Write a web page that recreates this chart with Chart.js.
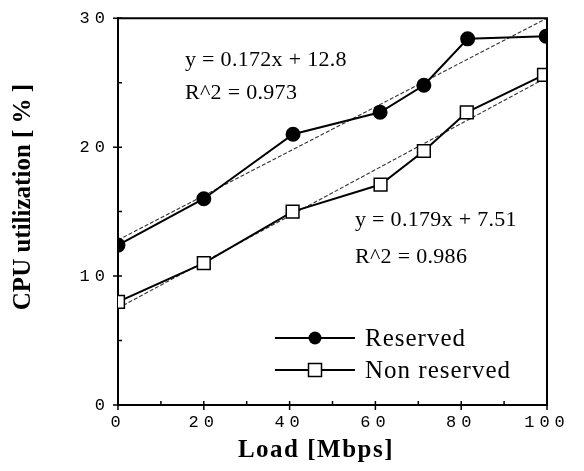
<!DOCTYPE html>
<html><head><meta charset="utf-8">
<script src="https://cdn.jsdelivr.net/npm/chart.js@4.4.1/dist/chart.umd.min.js"></script>
<style>html,body{margin:0;padding:0;background:#fff;} #wrap{width:584px;height:471px;position:relative;}</style>
</head><body><div id="wrap"><canvas id="c"></canvas></div>
<script>
// ---- data ----
const loadReserved = [0, 20, 40.8, 61.1, 71.3, 81.5, 99.8];
const cpuReserved = [12.4, 16.0, 21.0, 22.7, 24.8, 28.4, 28.6];
const loadNonReserved = [0, 20, 40.7, 61.2, 71.3, 81.3, 99.3];
const cpuNonReserved = [8.0, 11.0, 15.0, 17.1, 19.7, 22.7, 25.6];
const trendX = [0, 100];
const trendReserved = [12.8, 30.0];
const trendNonReserved = [7.51, 25.41];
const xTicks = [0, 20, 40, 60, 80, 100];
const yTicks = [0, 10, 20, 30];
const xMinorTicks = [10, 30, 50, 70, 90];
const yMinorTicks = [5, 15, 25];
const seriesNames = ['Reserved', 'Non reserved'];
const fitReserved = ['y = 0.172x + 12.8', 'R^2 = 0.973'];
const fitNonReserved = ['y = 0.179x + 7.51', 'R^2 = 0.986'];
const xTitle = 'Load [Mbps]';
const yTitle = 'CPU utilization [ % ]';

const pts = (xs, ys) => xs.map((x, i) => ({x: x, y: ys[i]}));

const serif = '"Liberation Serif", "Times New Roman", serif';
const mono = '"Liberation Mono", "Courier New", monospace';

const decor = {
  id: 'decor',
  afterDatasetsDraw(chart) { chart.ctx.letterSpacing = '5px'; },
  afterDraw(chart) {
    const ctx = chart.ctx;
    ctx.letterSpacing = '0px';
    const a = chart.chartArea;
    const xs = chart.scales.x, ys = chart.scales.y;
    ctx.save();
    // frame top + right
    ctx.strokeStyle = '#000';
    ctx.lineWidth = 2;
    ctx.beginPath();
    ctx.moveTo(a.left, a.top); ctx.lineTo(a.right, a.top); ctx.lineTo(a.right, a.bottom);
    ctx.stroke();
    // tick marks
    ctx.lineWidth = 1.5;
    ctx.beginPath();
    xTicks.forEach(v => { const p = xs.getPixelForValue(v); ctx.moveTo(p, a.bottom - 4); ctx.lineTo(p, a.bottom + 5); });
    xMinorTicks.forEach(v => { const p = xs.getPixelForValue(v); ctx.moveTo(p, a.bottom); ctx.lineTo(p, a.bottom - 4); });
    yTicks.forEach(v => { const p = ys.getPixelForValue(v); ctx.moveTo(a.left - 5, p); ctx.lineTo(a.left + 4, p); });
    yMinorTicks.forEach(v => { const p = ys.getPixelForValue(v); ctx.moveTo(a.left, p); ctx.lineTo(a.left + 4, p); });
    ctx.stroke();
    // axis titles
    ctx.fillStyle = '#000';
    ctx.textBaseline = 'middle';
    ctx.textAlign = 'center';
    ctx.font = 'bold 25px ' + serif;
    ctx.letterSpacing = '1.5px';
    ctx.fillText(xTitle, 316, 451);
    ctx.letterSpacing = '0px';
    ctx.save();
    ctx.translate(24, 197);
    ctx.rotate(-Math.PI / 2);
    ctx.fillText(yTitle, 0, 0);
    ctx.restore();
    // fit annotations
    ctx.font = '22px ' + serif;
    ctx.textAlign = 'left';
    ctx.letterSpacing = '0.3px';
    ctx.fillText(fitReserved[0], a.left + 67, 60);
    ctx.fillText(fitReserved[1], a.left + 67, 93);
    ctx.fillText(fitNonReserved[0], a.left + 237, 220);
    ctx.fillText(fitNonReserved[1], a.left + 237, 257);
    // legend
    const legendRows = [338, 370];
    legendRows.forEach((ry, i) => {
      ctx.strokeStyle = '#000';
      ctx.lineWidth = 2;
      ctx.beginPath(); ctx.moveTo(a.left + 157, ry); ctx.lineTo(a.left + 237, ry); ctx.stroke();
      const cx = a.left + 197;
      ctx.lineWidth = 1.5;
      if (i === 0) {
        ctx.beginPath(); ctx.arc(cx, ry, 6.5, 0, Math.PI * 2); ctx.fillStyle = '#000'; ctx.fill();
      } else {
        ctx.fillStyle = '#fff';
        ctx.fillRect(cx - 6.5, ry - 6.5, 13, 13);
        ctx.strokeRect(cx - 6.5, ry - 6.5, 13, 13);
      }
      ctx.fillStyle = '#000';
      ctx.font = '25px ' + serif;
      ctx.letterSpacing = '1px';
      ctx.fillText(seriesNames[i], a.left + 247, ry + 1);
    });
    ctx.letterSpacing = '0px';
    ctx.restore();
  }
};

new Chart(document.getElementById('c'), {
  type: 'scatter',
  data: {
    datasets: [
      {label: seriesNames[0], data: pts(loadReserved, cpuReserved), showLine: true, borderColor: '#000', borderWidth: 2,
       pointStyle: 'circle', pointRadius: 6.5, pointBackgroundColor: '#000', pointBorderColor: '#000', order: 1},
      {label: seriesNames[1], data: pts(loadNonReserved, cpuNonReserved), showLine: true, borderColor: '#000', borderWidth: 2,
       pointStyle: 'rect', pointRadius: 9, pointBackgroundColor: '#fff', pointBorderColor: '#000', pointBorderWidth: 1.5, order: 1},
      {label: 'Reserved fit', data: pts(trendX, trendReserved), showLine: true, borderColor: '#333', borderWidth: 1.1, borderDash: [4, 2],
       pointRadius: 0, order: 2},
      {label: 'Non reserved fit', data: pts(trendX, trendNonReserved), showLine: true, borderColor: '#333', borderWidth: 1.1, borderDash: [4, 2],
       pointRadius: 0, order: 2}
    ]
  },
  options: {
    responsive: true, maintainAspectRatio: false, animation: false,
    layout: {padding: {left: 0, right: 37, top: 15, bottom: 0}},
    plugins: {legend: {display: false}, tooltip: {enabled: false}},
    scales: {
      x: {
        type: 'linear', min: 0, max: 100,
        afterBuildTicks: s => { s.ticks = xTicks.map(v => ({value: v})); },
        afterFit: s => { s.height = 66; },
        grid: {display: false, drawTicks: false},
        border: {display: true, color: '#000', width: 2},
        ticks: {z: 1, color: '#000', font: {family: mono, size: 17}, padding: 7, maxRotation: 0,
                callback: v => String(v)},
        title: {display: false, text: xTitle}
      },
      y: {
        type: 'linear', min: 0, max: 30,
        afterBuildTicks: s => { s.ticks = yTicks.map(v => ({value: v})); },
        afterFit: s => { s.width = 118; },
        grid: {display: false, drawTicks: false},
        border: {display: true, color: '#000', width: 2},
        ticks: {z: 1, color: '#000', font: {family: mono, size: 17}, padding: 8,
                callback: v => String(v)},
        title: {display: false, text: yTitle}
      }
    }
  },
  plugins: [decor]
});
</script>
</body></html>
